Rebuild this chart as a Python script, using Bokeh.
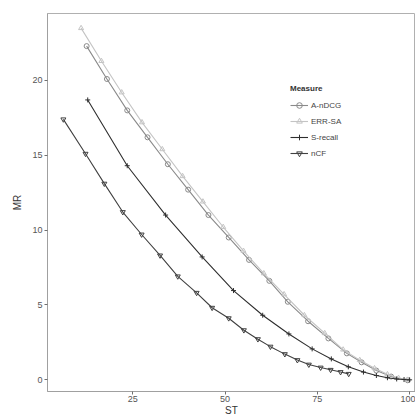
from bokeh.plotting import figure
from bokeh.models import Range1d, FixedTicker, Legend, LegendItem
from bokeh.embed import file_html
from bokeh.resources import INLINE

# ---- data ----
andcg_x = [12.5, 18, 23.5, 29, 34.5, 40, 45.5, 51, 56.5, 62, 67, 72.5, 78, 83, 87, 91, 95, 99.5]
andcg_y = [22.3, 20.1, 18.0, 16.2, 14.4, 12.7, 11.0, 9.5, 8.0, 6.6, 5.2, 3.9, 2.75, 1.75, 1.15, 0.6, 0.2, -0.05]

errsa_x = [11, 16.5, 22, 27.5, 33, 38.5, 44, 49.5, 55, 60.5, 66, 71.5, 77, 82, 86.5, 90.5, 94, 97, 99.5]
errsa_y = [23.5, 21.3, 19.2, 17.2, 15.4, 13.6, 11.9, 10.2, 8.6, 7.1, 5.7, 4.3, 3.1, 2.0, 1.3, 0.75, 0.35, 0.1, -0.02]

srecall_x = [12.8, 23.5, 33.9, 43.8, 52.3, 60.2, 67.3, 73.6, 78.8, 83.4, 87.5, 91.0, 94.0, 96.5, 98.5, 100]
srecall_y = [18.7, 14.3, 11.0, 8.2, 5.95, 4.3, 3.05, 2.05, 1.38, 0.85, 0.5, 0.27, 0.12, 0.04, 0.0, -0.02]

ncf_x = [6.2, 12.2, 17.3, 22.3, 27.4, 32.4, 37.2, 42.3, 46.5, 51.0, 55.1, 58.9, 62.3, 66.2, 69.6, 72.7, 75.9, 78.6, 81.3, 83.5]
ncf_y = [17.4, 15.1, 13.1, 11.2, 9.7, 8.3, 6.9, 5.8, 4.8, 4.1, 3.3, 2.7, 2.2, 1.7, 1.3, 1.0, 0.8, 0.65, 0.5, 0.38]

x_ticks = [25, 50, 75, 100]
y_ticks = [0, 5, 10, 15, 20]

FONT = "Liberation Sans"

p = figure(width=415, height=418, output_backend="svg", toolbar_location=None,
           x_range=Range1d(1.9, 101.6), y_range=Range1d(-0.8, 24.48),
           min_border_left=47, min_border_right=0, min_border_top=13, min_border_bottom=0)
p.background_fill_color = "white"
p.border_fill_color = "white"
p.outline_line_color = "#b0b0b0"
p.outline_line_width = 1
p.xgrid.visible = False
p.ygrid.visible = False

for ax in (p.xaxis[0], p.yaxis[0]):
    ax.axis_line_color = "#a0a0a0"
    ax.major_tick_line_color = "#707070"
    ax.minor_tick_line_color = None
    ax.major_tick_in = 0
    ax.major_tick_out = 3
    ax.major_label_text_font = FONT
    ax.major_label_text_font_size = "9px"
    ax.major_label_text_color = "#555555"
    ax.axis_label_text_font = FONT
    ax.axis_label_text_font_size = "10px"
    ax.axis_label_text_font_style = "normal"
    ax.axis_label_text_color = "#333333"
    ax.major_label_standoff = 2
    ax.axis_label_standoff = 6

p.xaxis[0].major_label_standoff = 1
p.xaxis[0].axis_label_standoff = 0

p.xaxis.ticker = FixedTicker(ticks=x_ticks)
p.yaxis.ticker = FixedTicker(ticks=y_ticks)
p.xaxis.axis_label = "ST"
p.yaxis.axis_label = "MR"

series = [
    ("A-nDCG", andcg_x, andcg_y, "#8a8a8a", "circle"),
    ("ERR-SA", errsa_x, errsa_y, "#c4c4c4", "triangle"),
    ("S-recall", srecall_x, srecall_y, "#2e2e2e", "cross"),
    ("nCF", ncf_x, ncf_y, "#404040", "inverted_triangle"),
]

items = []
for name, xs, ys, col, mk in series:
    r1 = p.line(xs, ys, line_color=col, line_width=1.1)
    r2 = p.scatter(xs, ys, marker=mk, size=5, line_color=col, fill_color=None, line_width=1)
    items.append(LegendItem(label=name, renderers=[r1, r2]))

legend = Legend(items=items, location=(243, 231), title="Measure")
legend.title_text_font = FONT
legend.title_text_font_size = "8px"
legend.title_text_font_style = "bold"
legend.title_text_color = "#333333"
legend.label_text_font = FONT
legend.label_text_font_size = "8px"
legend.label_text_color = "#444444"
legend.glyph_width = 18
legend.glyph_height = 14
legend.spacing = 2
legend.padding = 4
legend.margin = 0
legend.label_standoff = 3
legend.border_line_color = None
legend.background_fill_color = "white"
legend.background_fill_alpha = 1
p.add_layout(legend, "center")

open("out.html", "w").write(file_html(p, INLINE))
